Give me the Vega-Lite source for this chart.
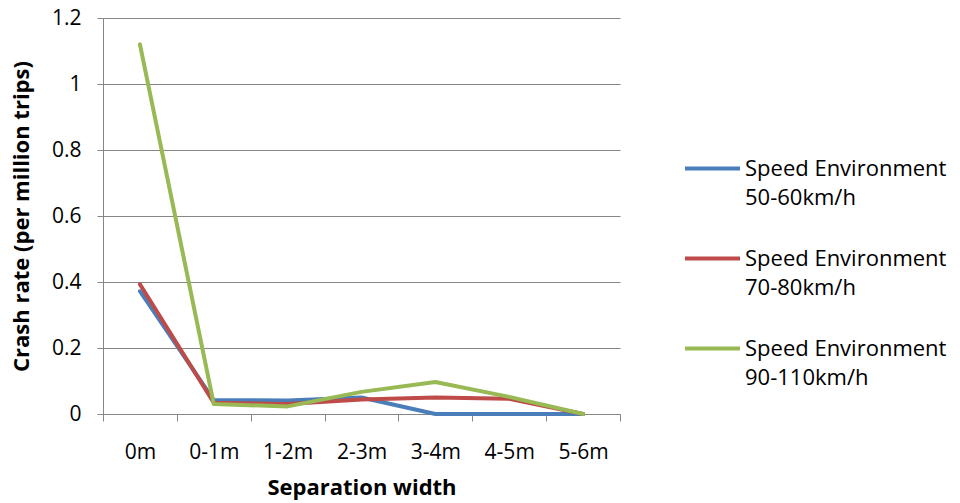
{
  "$schema": "https://vega.github.io/schema/vega-lite/v6.json",
  "width": 517,
  "height": 396,
  "autosize": {"type": "none"},
  "padding": {"left": 103, "top": 18, "right": 340, "bottom": 89},
  "background": "white",
  "data": {
    "values": [
      {"width": "0m", "series": "Speed Environment 50-60km/h", "rate": 0.372},
      {"width": "0-1m", "series": "Speed Environment 50-60km/h", "rate": 0.042},
      {"width": "1-2m", "series": "Speed Environment 50-60km/h", "rate": 0.041},
      {"width": "2-3m", "series": "Speed Environment 50-60km/h", "rate": 0.05},
      {"width": "3-4m", "series": "Speed Environment 50-60km/h", "rate": 0},
      {"width": "4-5m", "series": "Speed Environment 50-60km/h", "rate": 0},
      {"width": "5-6m", "series": "Speed Environment 50-60km/h", "rate": 0},
      {"width": "0m", "series": "Speed Environment 70-80km/h", "rate": 0.393},
      {"width": "0-1m", "series": "Speed Environment 70-80km/h", "rate": 0.034},
      {"width": "1-2m", "series": "Speed Environment 70-80km/h", "rate": 0.03},
      {"width": "2-3m", "series": "Speed Environment 70-80km/h", "rate": 0.044},
      {"width": "3-4m", "series": "Speed Environment 70-80km/h", "rate": 0.05},
      {"width": "4-5m", "series": "Speed Environment 70-80km/h", "rate": 0.046},
      {"width": "5-6m", "series": "Speed Environment 70-80km/h", "rate": 0},
      {"width": "0m", "series": "Speed Environment 90-110km/h", "rate": 1.12},
      {"width": "0-1m", "series": "Speed Environment 90-110km/h", "rate": 0.03},
      {"width": "1-2m", "series": "Speed Environment 90-110km/h", "rate": 0.023},
      {"width": "2-3m", "series": "Speed Environment 90-110km/h", "rate": 0.067},
      {"width": "3-4m", "series": "Speed Environment 90-110km/h", "rate": 0.097},
      {"width": "4-5m", "series": "Speed Environment 90-110km/h", "rate": 0.052},
      {"width": "5-6m", "series": "Speed Environment 90-110km/h", "rate": 0}
    ]
  },
  "mark": {"type": "line", "strokeWidth": 4, "strokeJoin": "round", "strokeCap": "round"},
  "encoding": {
    "x": {
      "field": "width",
      "type": "ordinal",
      "sort": ["0m", "0-1m", "1-2m", "2-3m", "3-4m", "4-5m", "5-6m"],
      "bandPosition": 0.5,
      "scale": {"type": "band", "paddingInner": 0, "paddingOuter": 0},
      "title": "Separation width",
      "axis": {
        "labelAngle": 0,
        "tickBand": "extent",
        "tickSize": 7,
        "labelPadding": 20,
        "titlePadding": 15,
        "grid": false
      }
    },
    "y": {
      "field": "rate",
      "type": "quantitative",
      "scale": {"domain": [0, 1.2], "nice": false},
      "title": "Crash rate (per million trips)",
      "axis": {
        "values": [0, 0.2, 0.4, 0.6, 0.8, 1, 1.2],
        "format": "~g",
        "tickSize": 6,
        "labelPadding": 16,
        "titlePadding": 18,
        "grid": true
      }
    },
    "color": {
      "field": "series",
      "type": "nominal",
      "scale": {"range": ["#4A7EBB", "#BE4B48", "#98B954"]},
      "legend": {
        "title": null,
        "orient": "none",
        "legendX": 580,
        "legendY": 121,
        "symbolType": "stroke",
        "symbolSize": 3025,
        "symbolStrokeWidth": 4,
        "rowPadding": 20,
        "labelOffset": 3,
        "labelExpr": "[slice(datum.label, 0, 17), slice(datum.label, 18)]",
        "labelLimit": 400
      }
    }
  },
  "config": {
    "view": {"stroke": null},
    "font": "Open Sans",
    "style": {"guide-label": {"lineHeight": 29}},
    "axis": {
      "labelFont": "Open Sans",
      "labelFontSize": 21,
      "labelColor": "#000000",
      "titleFont": "Open Sans",
      "titleFontSize": 22,
      "titleFontWeight": "bold",
      "titleColor": "#000000",
      "domainColor": "#868686",
      "tickColor": "#868686",
      "gridColor": "#868686",
      "domainWidth": 1,
      "tickWidth": 1,
      "gridWidth": 1
    },
    "legend": {
      "labelFont": "Open Sans",
      "labelFontSize": 22,
      "labelColor": "#000000"
    }
  }
}
